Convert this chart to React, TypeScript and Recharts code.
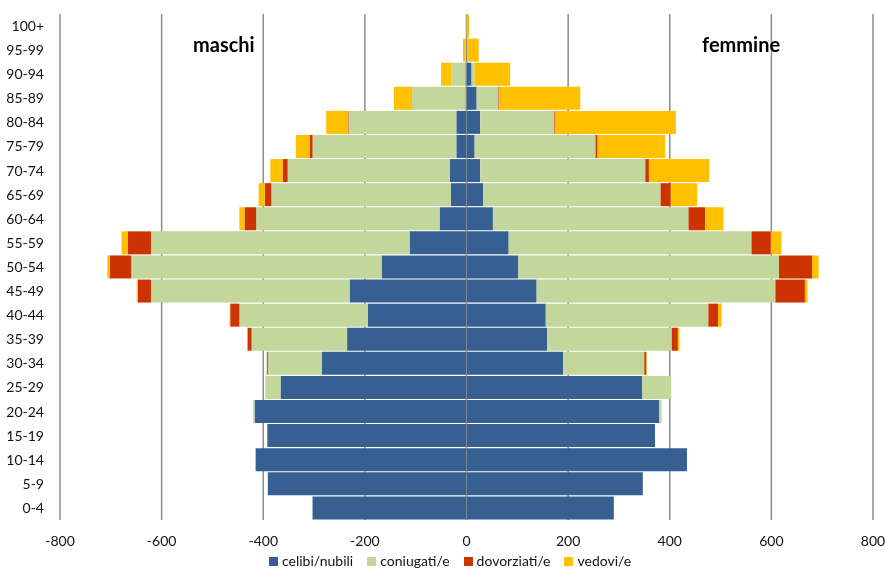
import React from 'react';
import {
  BarChart,
  Bar,
  XAxis,
  YAxis,
  CartesianGrid,
  ReferenceLine,
  Legend
} from 'recharts';

// age classes, youngest first (axis is reversed so 0-4 sits at the bottom)
const ageGroups = [
  '0-4', '5-9', '10-14', '15-19', '20-24', '25-29', '30-34', '35-39', '40-44', '45-49',
  '50-54', '55-59', '60-64', '65-69', '70-74', '75-79', '80-84', '85-89', '90-94', '95-99', '100+'
];

// maschi (drawn to the left)
const maschiCelibi = [303, 391, 415, 392, 417, 366, 285, 235, 194, 230, 167, 112, 53, 31, 33, 20, 20, 2, 2, 1, 0];
const maschiConiugati = [0, 0, 0, 0, 3, 30, 106, 188, 253, 391, 493, 509, 361, 353, 319, 283, 212, 105, 28, 1, 0];
const maschiDivorziati = [0, 0, 0, 0, 0, 0, 2, 8, 18, 26, 42, 46, 23, 13, 10, 6, 1, 0, 0, 0, 0];
const maschiVedovi = [0, 0, 0, 0, 0, 0, 0, 1, 1, 2, 5, 12, 10, 12, 24, 27, 43, 36, 20, 5, 1];

// femmine (drawn to the right)
const femmineNubili = [290, 347, 434, 371, 379, 346, 190, 159, 156, 138, 102, 83, 52, 33, 27, 16, 27, 20, 10, 1, 0];
const femmineConiugate = [0, 0, 0, 0, 5, 57, 160, 245, 320, 470, 513, 478, 385, 349, 325, 238, 146, 43, 6, 1, 0];
const femmineDivorziate = [0, 0, 0, 0, 0, 0, 4, 12, 19, 58, 65, 38, 33, 20, 7, 4, 2, 1, 0, 0, 0];
const femmineVedove = [0, 0, 0, 0, 0, 0, 1, 3, 7, 5, 13, 21, 36, 52, 119, 133, 237, 160, 70, 22, 5];

const xTicks = [-800, -600, -400, -200, 0, 200, 400, 600, 800];

const BLUE = '#376092';
const GREEN = '#c3d69b';
const RED = '#cc3300';
const YELLOW = '#ffc000';

const legendItems = [
  { label: 'celibi/nubili', color: BLUE },
  { label: 'coniugati/e', color: GREEN },
  { label: 'dovorziati/e', color: RED },
  { label: 'vedovi/e', color: YELLOW }
];

const data = ageGroups.map((age, i) => ({
  age,
  mCelibi: -maschiCelibi[i],
  mConiugati: -maschiConiugati[i],
  mDivorziati: -maschiDivorziati[i],
  mVedovi: -maschiVedovi[i],
  fNubili: femmineNubili[i],
  fConiugate: femmineConiugate[i],
  fDivorziate: femmineDivorziate[i],
  fVedove: femmineVedove[i]
}));

const FONT = 'Lato, "Open Sans", sans-serif';
const tickStyle = { fill: '#111', fontSize: 14, fontFamily: FONT };

const renderLegend = () => (
  <div style={{ display: 'flex', paddingLeft: 269, fontFamily: FONT, fontSize: 14, lineHeight: '14px', color: '#111' }}>
    {legendItems.map(item => (
      <div key={item.label} style={{ display: 'flex', alignItems: 'center', marginRight: 14 }}>
        <span style={{ width: 9, height: 9, background: item.color, marginRight: 4, display: 'inline-block' }} />
        <span>{item.label}</span>
      </div>
    ))}
  </div>
);

export default function App() {
  // pinned to the viewport corner so the body margin doesn't push the chart into a scroll
  return (
    <div style={{ position: 'fixed', left: 0, top: 0 }}>
      <BarChart
        width={885}
        height={568}
        data={data}
        layout="vertical"
        stackOffset="sign"
        barCategoryGap={0.5}
        margin={{ top: 14, right: 12, bottom: 18, left: 0 }}
        style={{ fontFamily: FONT }}
      >
        <CartesianGrid horizontal={false} stroke="#8c8c8c" strokeWidth={1.5} />
        <XAxis
          type="number"
          domain={[-800, 800]}
          ticks={xTicks}
          axisLine={false}
          tickLine={false}
          tickSize={0}
          tickMargin={16}
          height={30}
          tick={tickStyle}
        />
        <YAxis
          type="category"
          dataKey="age"
          reversed
          interval={0}
          axisLine={false}
          tickLine={false}
          tickSize={0}
          tickMargin={16}
          width={60}
          tick={tickStyle}
        />
        <Bar dataKey="mCelibi" stackId="a" fill={BLUE} isAnimationActive={false} />
        <Bar dataKey="mConiugati" stackId="a" fill={GREEN} isAnimationActive={false} />
        <Bar dataKey="mDivorziati" stackId="a" fill={RED} isAnimationActive={false} />
        <Bar dataKey="mVedovi" stackId="a" fill={YELLOW} isAnimationActive={false} />
        <Bar dataKey="fNubili" stackId="a" fill={BLUE} isAnimationActive={false} />
        <Bar dataKey="fConiugate" stackId="a" fill={GREEN} isAnimationActive={false} />
        <Bar dataKey="fDivorziate" stackId="a" fill={RED} isAnimationActive={false} />
        <Bar dataKey="fVedove" stackId="a" fill={YELLOW} isAnimationActive={false} />
        <ReferenceLine x={0} stroke="#999" strokeOpacity={0.6} />
        <Legend
          layout="horizontal"
          verticalAlign="middle"
          align="center"
          content={renderLegend}
          wrapperStyle={{ top: 554, left: 0, width: 885, height: 14 }}
        />
        <text x={193} y={52} fontSize={20} fontWeight="bold" fontFamily={FONT} fill="#000">maschi</text>
        <text x={702} y={52} fontSize={20} fontWeight="bold" fontFamily={FONT} fill="#000">femmine</text>
      </BarChart>
    </div>
  );
}
